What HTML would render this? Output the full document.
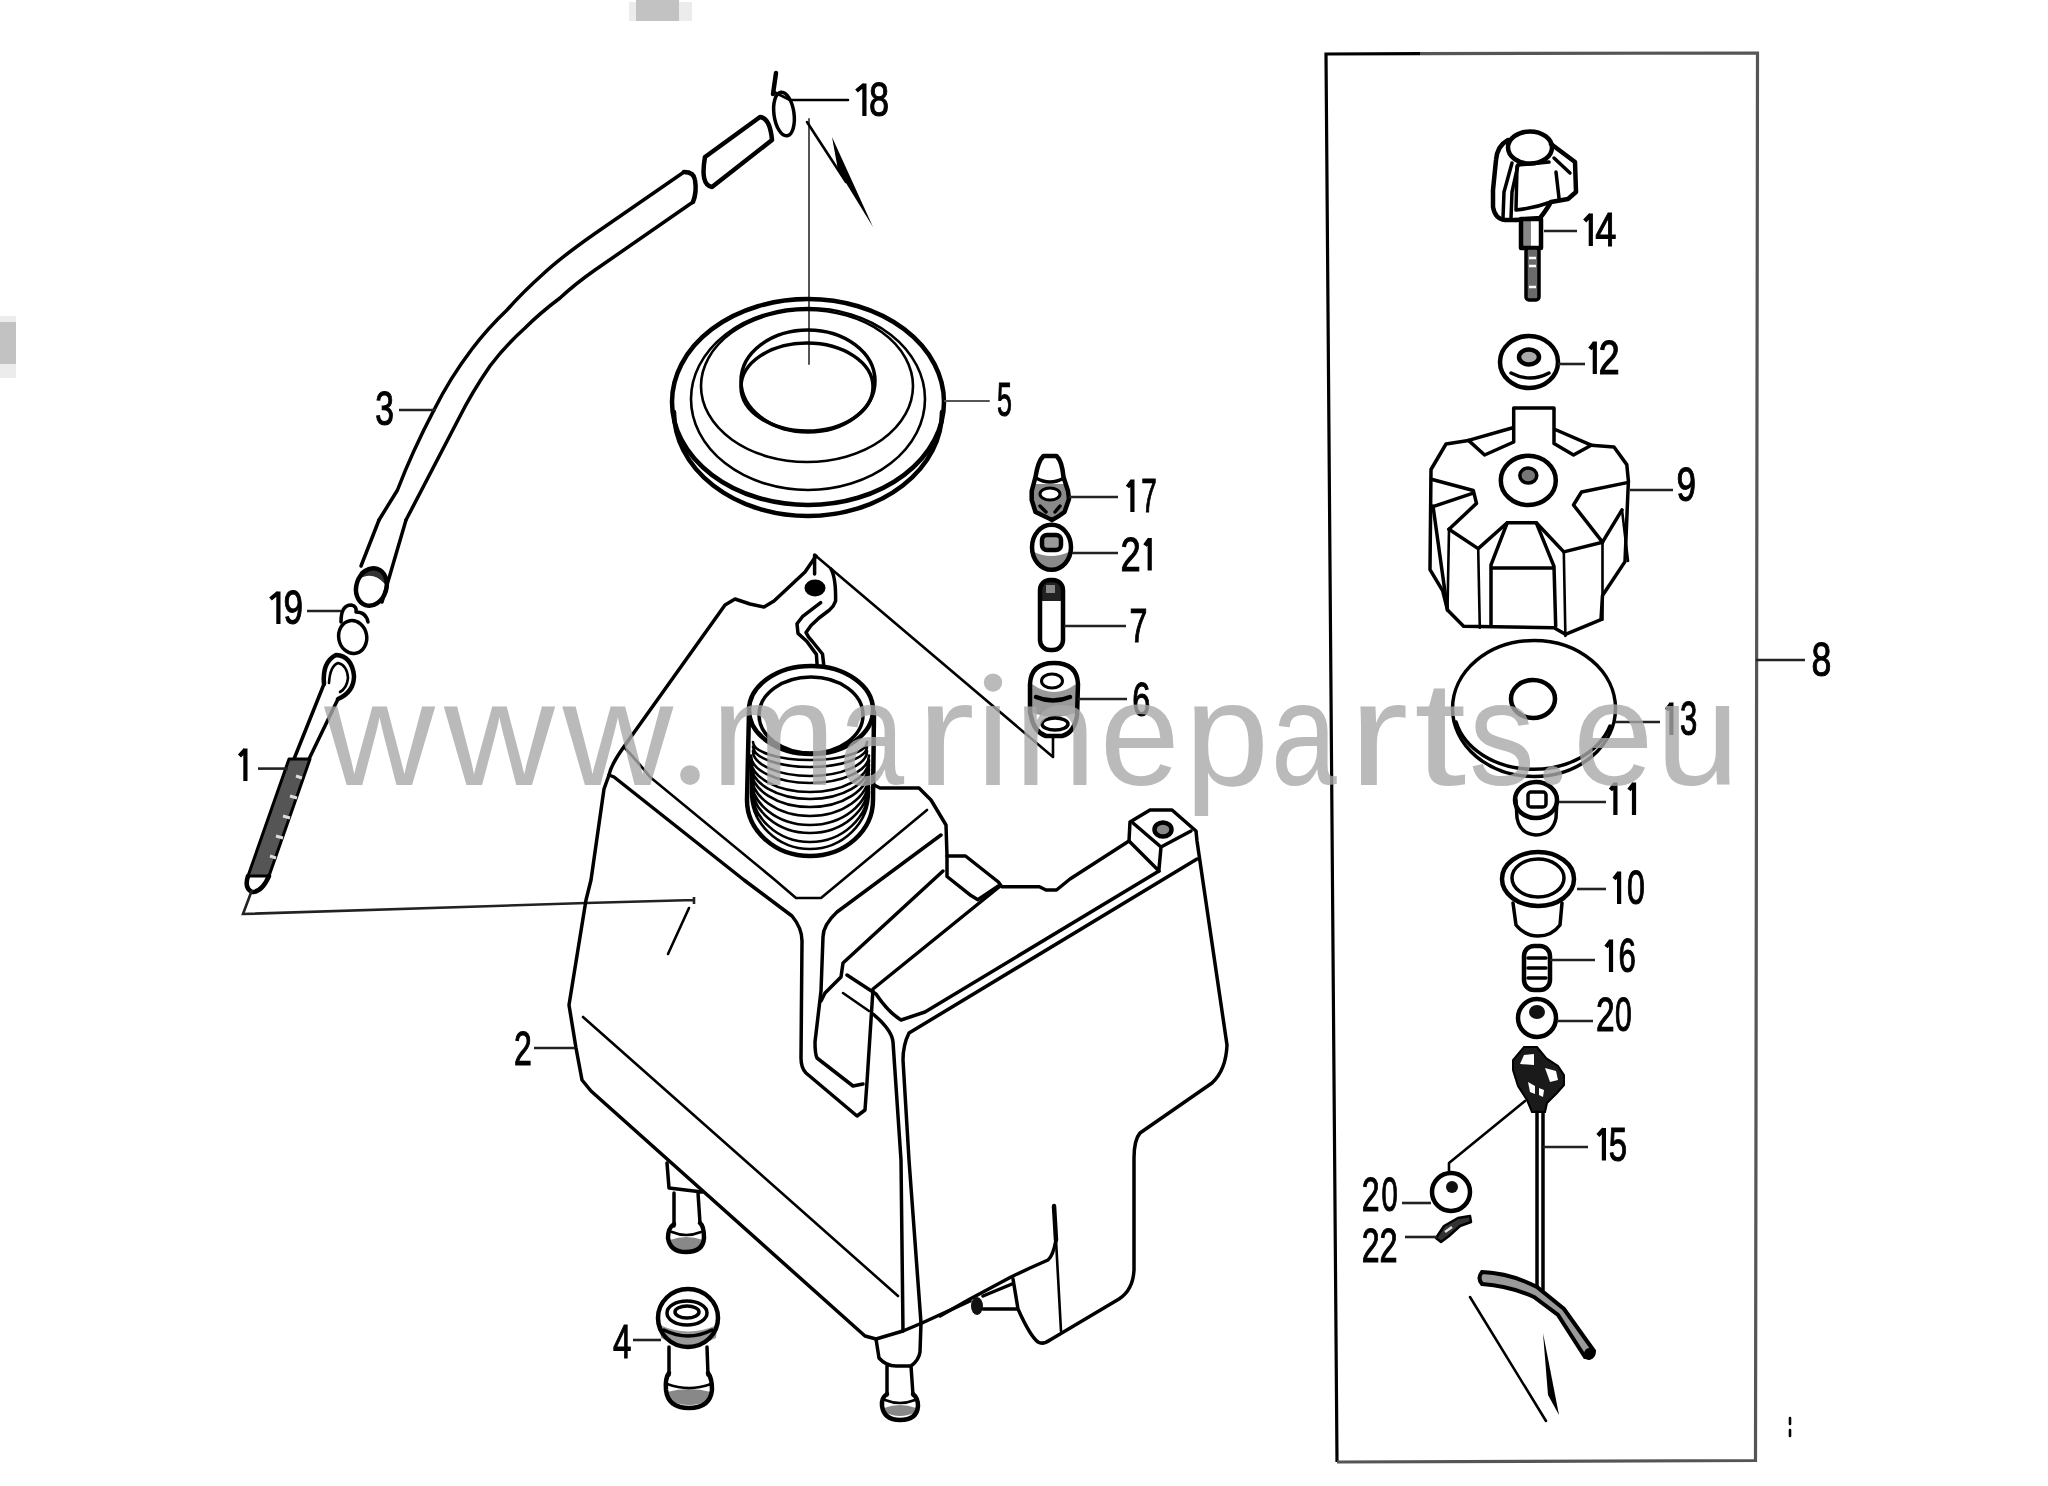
<!DOCTYPE html>
<html><head><meta charset="utf-8"><title>Parts diagram</title>
<style>
html,body{margin:0;padding:0;background:#fff;width:2048px;height:1486px;overflow:hidden}
svg{display:block;will-change:transform}
.k{fill:none;stroke:#000;stroke-width:3.5;stroke-linecap:round;stroke-linejoin:round}
.t{fill:none;stroke:#000;stroke-width:2.6;stroke-linecap:round;stroke-linejoin:round}
.h{fill:none;stroke:#000;stroke-width:4.5;stroke-linecap:round;stroke-linejoin:round}
.g{fill:none;stroke:#555;stroke-width:2;stroke-linecap:round}
.ld{fill:none;stroke:#222;stroke-width:2.6}
.n{font-family:"Liberation Sans",sans-serif;font-size:47.5px;fill:#000;stroke:#000;stroke-width:1.1}
.wm{font-family:"Liberation Sans",sans-serif;font-size:152px;fill:#b8b8b8;fill-opacity:0.97}
</style></head>
<body>
<svg width="2048" height="1486" viewBox="0 0 2048 1486">
<rect width="2048" height="1486" fill="#fff"/>
<!-- gray scan marks -->
<rect x="629" y="2" width="63" height="19" fill="#ececec"/>
<rect x="636" y="0" width="43" height="21" fill="#c2c2c2"/>
<rect x="0" y="316" width="16" height="62" fill="#ececec"/>
<rect x="0" y="322" width="16" height="42" fill="#c2c2c2"/>

<g id="drawing">
<!-- ===== part 18 + tube 3 ===== -->
<g id="p3">
<path class="k" d="M684,172 L595,233.5 Q560,258 542,275 Q522,293 507,310 Q488,328 472,349 Q450,378 434,410 Q412,452 397.5,490 L379,520"/>
<path class="k" d="M693,202 L595,270 Q575,284 560,298 Q540,313 525,328 Q505,346 490,366 Q472,392 458,420 Q432,470 406,520"/>
<path class="h" d="M684,172 Q694,172 695,180 Q697,192 693,202"/>
<path class="ld" d="M399,410 L436,410"/>
<path class="k" d="M379,520 L361,566 M406,520 L382,602"/>
<path d="M360,572 Q372,560 386,578 L385,584 Q372,570 358,580 Z" fill="#333"/>
<ellipse class="h" cx="371.4" cy="587" rx="15" ry="19" transform="rotate(18 371.4 587)"/>
</g>
<path class="h" d="M705,157 L760,117 Q770,118 772,140 L712,187 Q700,185 705,157 Z"/>
<path class="h" d="M776,73 L773,94"/>
<ellipse class="k" cx="784" cy="114" rx="10" ry="22" transform="rotate(-8 784 114)"/>
<path class="t" d="M774,92 L790,100 L848,100"/>
<path class="g" d="M809,119 L809,364"/>
<path class="t" d="M807,122 L846,182"/>
<path d="M832,137 L873,227 L838,170 Z" fill="#000"/>

<!-- ===== part 5 grommet ===== -->
<g id="p5">
<ellipse class="h" cx="808" cy="402" rx="136" ry="103"/>
<path class="h" d="M674,412 A134,104 0 0 0 942,412"/>
<ellipse class="t" cx="808" cy="399" rx="117" ry="91"/>
<ellipse class="t" cx="807" cy="386" rx="106" ry="76"/>
<ellipse class="k" cx="808" cy="381" rx="67" ry="51"/>
<ellipse class="k" cx="807" cy="387" rx="66" ry="44"/>
<path class="g" d="M945,401 L989,401"/>
</g>

<!-- ===== part 19 ===== -->
<ellipse class="k" cx="352.7" cy="637" rx="14" ry="16.5" transform="rotate(-10 352.7 637)"/>
<path class="k" d="M341,622 Q341,605 351,605 Q357,606 356,612 Q366,612 368,622"/>
<path class="ld" d="M307,611 L341,611"/>

<!-- ===== part 1 bolt ===== -->
<path class="h" d="M324,684 Q322,662 336,655 Q352,656 354,676 Q354,692 338,699"/>
<path class="t" d="M329,683 Q330,666 338,663 Q347,665 348,678 Q347,688 340,692"/>
<path class="k" d="M324,684 L294,759 M338,699 L309,759"/>
<path d="M289,759 L310,759 L269,876 L248,876 Z" fill="#555" stroke="#000" stroke-width="3" stroke-linejoin="round"/>
<path d="M296,776 L302,778 M290,796 L297,798 M283,816 L290,818 M276,836 L283,838 M270,856 L276,858" stroke="#ddd" stroke-width="3"/>
<path class="h" d="M248,876 Q244,888 252,892 Q262,892 269,876"/>
<path class="ld" d="M258,768.6 L288,768.6"/>
<path class="ld" d="M252,890 L243,914 L586,903 L694,900 M694,897 L694,904"/>
<path class="t" d="M689,908 L668,954"/>

<!-- ===== tank ===== -->
<g id="tank">
<!-- outer silhouette -->
<path class="k" d="M816,556 L805,572 L774,601 L764,607 L750,604 L735,599 L725,605 L623,748 Q611,765 609,775 L604,789 L591,880 L586,900 L569,1005 L576,1048 L582,1080 L591,1091 L865,1336 L876,1339 L903,1331 L922,1323 L970,1301"/>
<path class="k" d="M1013,1279 L1018,1309 Q1030,1336 1038,1342 Q1043,1345 1050,1340 L1119,1299 Q1133,1290 1134,1270 L1134,1158 Q1134,1140 1140,1133 L1212,1083 Q1226,1070 1227,1045 L1197,841 L1196,831 L1172,810 L1150,810 L1130,822 L1129,841 L1070,879 L1056.5,890 L1046,890 L1039.4,886.7 L1001.8,886.7 L998.4,882 L965.5,856 L947,856 L946,825 L931,800 L919,788 L880,788 L874,785"/>
<!-- bottom inner curve -->
<path class="h" d="M1054,1206 L1056,1240"/><path class="k" d="M1056,1240 Q1053,1256 1048,1260 L1030,1268 L1011,1277 L970,1299 L940,1316"/>
<path class="t" d="M1056,1240 L1061,1331"/>
<!-- nub -->
<ellipse cx="977" cy="1306" rx="6" ry="9" fill="#111"/>
<path class="k" d="M983,1309 L1017,1309 M983,1296 L1012,1284"/>
<!-- hook -->
<ellipse cx="815" cy="588" rx="10.5" ry="8.5" fill="#000"/>
<path class="k" d="M814.6,555 L814.6,574"/>
<path class="k" d="M831,569 Q836,578 835.6,601 Q834,606 829.5,610 L819,618 L811,625.5 L806,632.5 Q808,637 812,641 L822.5,654 L824,667"/>
<path class="k" d="M820.7,602.7 L802.4,616.7 L797,623.7 L798,633.4 L806.7,641.2 L816.4,654.4 L817.2,666.6"/>
<path class="t" d="M816,556 L1053,757 M1053,737 L1053,757"/>
<!-- neck -->
<ellipse class="h" cx="811" cy="710" rx="62" ry="44"/>
<ellipse class="k" cx="811" cy="715" rx="52" ry="38"/>
<path class="h" d="M749,712 L747,800 A63,56 0 0 0 873,800 L874,712"/>
<path class="t" d="M753,742.0 A57.0,18.0 0 0 0 867,742.0 M753,746.5 A57.0,20.5 0 0 0 867,746.5 M753,751.0 A57.0,25.0 0 0 0 867,751.0 M751,755.5 A59.0,27.5 0 0 0 869,755.5 M751,760.0 A59.0,32.0 0 0 0 869,760.0 M751,764.5 A59.0,34.5 0 0 0 869,764.5 M751,769.0 A59.0,38.0 0 0 0 869,769.0 M751,773.5 A59.0,42.5 0 0 0 869,773.5 M751,778.0 A59.0,47.0 0 0 0 869,778.0 M751,782.5 A59.0,50.5 0 0 0 869,782.5 M751,787.0 A59.0,55.0 0 0 0 869,787.0 M751,791.5 A59.0,57.5 0 0 0 869,791.5"/>
<!-- top face lines -->
<path class="k" d="M609,775 L614,777 L744,880 L792,916 Q802,928 802,941 L801,1058 Q801,1068 806,1073 L857,1116 L865,1110 L867,1082 L873,989 L999,887"/>
<path class="t" d="M624,747 Q638,762 650,777 L775,880 L796,898 L821,898 L927,810"/>
<path class="k" d="M941,835 L837,912 Q823,925 823,937 L821,991 L815,1042 Q815,1054 817,1058 L853,1086 L863,1084"/>
<path class="k" d="M943,871 L843,963 L841,977 L825,993 L821,1001"/>
<path class="t" d="M843,993 L869,1011"/>
<!-- small block -->
<path class="k" d="M947,856 L947,876.5 L971,895.6 L977.8,899.7 L998.4,886"/>
<!-- boss -->
<path class="k" d="M1133,823 L1161,847 L1191,831 M1161,847 L1159,869 M1129,841 L1159,871"/>
<ellipse cx="1163" cy="829.5" rx="8.5" ry="7" fill="#888" stroke="#000" stroke-width="4.5"/>
<!-- right block lines -->
<path class="k" d="M1159,871 L925,1012 L901,1020 Q888,1012 876,994 L847,975"/>
<path class="k" d="M1197,859 L909,1033 Q903,1045 903,1060 L909,1160 L921,1323"/>
<path class="k" d="M873,1014 Q892,1030 893,1042 L901,1160 L903,1331"/>
<path class="k" d="M865,1116"/>
<!-- left face diagonal -->
<path class="t" d="M583,1017 L898,1296"/>
<!-- leader 2 -->
<path class="ld" d="M534,1048 L575,1048"/>
<!-- legs -->
<path class="k" d="M667,1163 L669,1188 L702,1192 M674,1193 L674,1226 M698,1193 L700,1223"/>
<path d="M670,1240 Q686,1234 703,1240 L703,1246 Q686,1256 670,1246 Z" fill="#888"/>
<path class="h" d="M674,1224 Q668,1228 668,1238 Q670,1252 686,1252 Q703,1252 704,1238 Q704,1226 700,1223"/>
<path class="t" d="M672,1232 Q686,1238 701,1232"/>
<path class="k" d="M876,1339 L879,1358 Q886,1366 896,1366 L911,1366 Q919,1360 920,1352 L921,1323 M887,1366 L887,1395 M911,1366 L913,1395"/>
<path d="M884,1408 Q900,1402 916,1408 L916,1412 Q900,1420 884,1412 Z" fill="#888"/>
<path class="h" d="M887,1394 Q881,1398 882,1406 Q884,1420 900,1420 Q917,1420 918,1406 Q918,1398 913,1394"/>
<path class="t" d="M885,1400 Q900,1406 915,1400"/>
</g>
<!-- ===== part 4 ===== -->
<path d="M660,1325 Q688,1338 717,1325 L716,1338 Q688,1352 661,1338 Z" fill="#999"/>
<ellipse class="h" cx="688" cy="1318" rx="30" ry="29"/>
<ellipse class="k" cx="687" cy="1313" rx="20" ry="12"/>
<ellipse class="k" cx="687" cy="1312" rx="12" ry="6"/>
<path class="k" d="M664,1330 Q688,1342 712,1330"/>
<path class="k" d="M669,1347 L669,1375 M707,1347 L708,1375"/>
<path d="M667,1392 Q689,1386 711,1392 L710,1400 Q689,1410 668,1400 Z" fill="#888"/>
<path class="h" d="M669,1373 Q665,1378 666,1390 Q668,1408 689,1408 Q710,1408 712,1390 Q712,1378 708,1373"/>
<path class="t" d="M667,1384 Q689,1392 711,1384"/>
<path class="ld" d="M633,1340 L661,1340"/>

<!-- ===== parts 17 21 7 6 ===== -->
<path d="M1033,484 L1067,484 L1069,499 L1064.5,512 Q1058,517 1052,520 Q1046,517 1035.5,512 L1031.7,500 Z" fill="#8a8a8a"/>
<path class="h" d="M1043.5,456 L1056.5,456 Q1062,461 1063.5,477 L1068,491 L1069,499 L1064.5,512 Q1058,517 1052,520 Q1046,517 1035.5,512 L1031.7,500 L1031.7,491 L1035.5,477 Q1038,461 1043.5,456 Z"/>
<path class="k" d="M1036,478 Q1050,486 1064,478"/>
<ellipse cx="1050" cy="494" rx="10" ry="6" fill="#fff" stroke="#000" stroke-width="3"/>
<path class="k" d="M1040,506 L1046,512 M1060,506 L1055,512"/>
<path class="ld" d="M1069,497 L1118,497"/>
<path d="M1034,552 Q1051,560 1069,552 Q1066,568 1051,570 Q1037,568 1034,552 Z" fill="#8a8a8a"/>
<ellipse class="h" cx="1051.5" cy="547.3" rx="19.5" ry="22.5"/>
<rect x="1042" y="535" width="19" height="15" rx="5" fill="#999" stroke="#000" stroke-width="4.5"/>
<path class="ld" d="M1072,553 L1118,553"/>
<path d="M1040,596 Q1040,579 1051.5,579 Q1063,579 1063,596 L1063,601 L1040,601 Z" fill="#222"/>
<rect class="h" x="1040" y="580" width="23" height="70" rx="10"/>
<rect x="1046" y="585" width="9" height="8" fill="#888"/>
<path class="ld" d="M1064,626 L1126,626"/>
<path d="M1032,684 Q1054,700 1076,684 L1077,712 Q1054,722 1031,712 Z" fill="#999"/>
<path class="h" d="M1030,712 L1030,684 Q1031,663 1054,663 Q1077,663 1078,684 L1077,716 Q1074,733 1062,736 L1046,736 Q1034,732 1031,716 Z"/>
<ellipse cx="1052" cy="681" rx="10.5" ry="7" fill="#fff" stroke="#000" stroke-width="3"/>
<path class="h" d="M1036,697 Q1053,704 1070,697"/>
<ellipse cx="1055" cy="724" rx="13" ry="6" fill="#fff" stroke="#000" stroke-width="3.5"/>
<path class="ld" d="M1078,699 L1127,699"/>

<!-- ===== right box ===== -->
<path d="M1337,1462 L1326,54 L1420,53.6" fill="none" stroke="#000" stroke-width="3.2"/>
<path d="M1420,53.6 L1757.5,53 L1755.5,1460.5 L1337,1462" fill="none" stroke="#555" stroke-width="3.2"/>
<path class="ld" d="M1756,660 L1805,660"/>

<!-- part 14 -->
<ellipse class="h" cx="1530" cy="147.5" rx="22" ry="16"/>
<path class="h" d="M1508,140 Q1497,146 1496,160 L1493,190 L1493,207 Q1495,219 1505,220 L1516,220"/>
<path class="k" d="M1512,163 L1504,192 L1503,218 M1518,165 L1512,192 L1511,218"/>
<path class="k" d="M1518,165 L1549,162 M1517,166 L1516,210 M1516,210 Q1535,208 1551,202"/>
<path class="h" d="M1551,144 L1575,162 L1576,192 L1568,199 L1551,202 Q1545,212 1540,218 L1516,220"/>
<path class="k" d="M1554,158 L1570,173 M1556,172 L1559,198"/>
<path d="M1522,220 L1531,220 L1531,248 L1522,248 Z" fill="#888"/>
<rect class="h" x="1521" y="219" width="20" height="29"/>
<rect x="1526" y="248" width="13" height="52" rx="3" fill="#6a6a6a" stroke="#000" stroke-width="3.5"/>
<path d="M1529,258 L1536,258 M1529,266 L1536,266 M1529,287 L1536,287" stroke="#fff" stroke-width="2.5"/>
<path class="ld" d="M1544,231 L1577,231"/>
<!-- part 12 -->
<ellipse class="h" cx="1529" cy="362" rx="29" ry="26"/>
<ellipse cx="1529" cy="357" rx="10" ry="7.5" fill="#aaa" stroke="#000" stroke-width="4.5"/>
<path class="k" d="M1511,373 Q1530,383 1549,373"/>
<path class="ld" d="M1558,364 L1585,364"/>
<!-- part 9 -->
<g id="p9">
<path class="k" d="M1468.5,440.4 L1446,444 L1431,469.5 L1430,569.6 L1442.6,590.6 L1447.5,610 L1463.6,626.2 L1554,627.8 L1565.4,634.3 L1601,619.7 L1602.5,595.5 L1625,561.6 L1628.4,481 L1626.8,464.6 L1614,447 L1591.2,445.2"/>
<path class="k" d="M1468.5,440.4 L1513.7,427.5 L1513.7,408 L1554,408 L1554,429 L1591.2,445.2 L1573.5,455 L1554,443.6 L1554,408 M1513.7,408 L1513.7,442 L1484.6,455 L1468.5,440.4"/>
<ellipse class="h" cx="1528.3" cy="480.4" rx="27.5" ry="24.6"/>
<ellipse cx="1528.3" cy="475.6" rx="8.5" ry="7.5" fill="#777" stroke="#000" stroke-width="3.5"/>
<path class="k" d="M1431.3,479.2 L1473.3,490.5 L1476.5,503.4 L1449,529.2 M1433,506.6 L1471.7,493.7 M1433,506 L1447.5,610"/>
<path class="k" d="M1628.4,482.4 L1581.5,492 L1573.5,505 L1602.5,542.2 L1622,509.9"/>
<path class="t" d="M1622,509.9 L1628,561"/>
<path class="k" d="M1449,529.2 L1478.2,548.6 L1507.2,522.8 L1536.3,522.8 L1563.8,551.9 L1602.5,542.2"/>
<path class="k" d="M1507.2,522.8 L1491,564.8 L1491,626.2 M1536.3,522.8 L1554,566.4 L1555.7,626.2 M1491,568 L1554,568"/>
<path class="t" d="M1478.2,548.6 L1479.8,627.8 M1563.8,551.9 L1565.4,635.9 M1602.5,542.2 L1602.5,619.7 M1449,529.2 L1447.5,610"/>
<path class="ld" d="M1630,490 L1673,490"/>
</g>
<!-- part 13 -->
<ellipse class="k" cx="1534" cy="708.5" rx="81.5" ry="68"/>
<path class="k" d="M1456,722 A80,62 0 0 0 1610,726"/>
<ellipse class="h" cx="1533" cy="699" rx="22" ry="19"/>
<path class="ld" d="M1615,722 L1660,722"/>
<!-- part 11 -->
<ellipse class="h" cx="1536" cy="800" rx="21" ry="18"/>
<path class="k" d="M1516,800 L1517,818 Q1520,834 1536,835 Q1553,834 1556,818 L1557,800"/>
<rect class="k" x="1528" y="792" width="18" height="15" rx="3"/>
<path class="ld" d="M1559,802 L1606,802"/>
<!-- part 10 -->
<ellipse class="h" cx="1538" cy="879" rx="36" ry="27"/>
<ellipse class="k" cx="1538" cy="878" rx="26" ry="19"/>
<path class="k" d="M1513,903 L1516,925 Q1525,936 1538,936 Q1552,936 1560,925 L1562,903"/>
<path class="ld" d="M1577,889 L1606,889"/>
<!-- part 16 -->
<rect class="h" x="1524" y="946" width="26" height="44" rx="10"/>
<path class="k" d="M1528,958 L1546,958 M1528,968 L1546,968 M1528,978 L1546,978"/>
<path class="ld" d="M1550,960 L1595,960"/>
<!-- part 20 -->
<ellipse class="h" cx="1537" cy="1018" rx="19" ry="19"/>
<ellipse cx="1537" cy="1012" rx="8" ry="7" fill="#111"/>
<path class="ld" d="M1557,1021 L1593,1021"/>
<!-- part 15 -->
<path d="M1524,1047 L1537,1047 L1546,1058 L1558,1066 L1564,1075 L1564,1085 L1557,1093 L1547,1103 L1545,1112 L1532,1112 L1527,1100 L1518,1086 L1513,1070 L1513,1060 Z" fill="#1a1a1a" stroke="#000" stroke-width="2"/>
<path d="M1524,1055 L1534,1054 L1534,1065 L1520,1064 Z M1545,1068 L1556,1071 L1558,1080 L1550,1082 Z M1528,1082 L1535,1086 L1535,1094 L1530,1092 Z M1539,1088 L1544,1090 L1543,1097 L1539,1095 Z" fill="#fff"/>
<path class="k" d="M1537,1112 L1537,1290 M1543,1112 L1543,1290"/>
<path class="t" d="M1525,1101 L1449,1163 L1449,1172"/>
<path class="ld" d="M1543,1147 L1588,1147"/>
<path d="M1482,1272 Q1510,1273 1537,1287 L1564,1309 L1594,1351 Q1594,1359 1585,1357 L1558,1315 L1534,1297 Q1510,1286 1482,1284 Q1477,1278 1482,1272 Z" fill="#9a9a9a" stroke="#000" stroke-width="4"/>
<ellipse cx="1589" cy="1354" rx="5" ry="6" fill="#000"/>
<path class="t" d="M1470,1297 L1546,1421"/>
<path d="M1543,1333 L1559,1415 L1548,1395 Z" fill="#000"/>
<!-- part 20 left, 22 -->
<ellipse class="h" cx="1451" cy="1192" rx="19" ry="19"/>
<circle cx="1452" cy="1187" r="6" fill="#111"/>
<path class="ld" d="M1402,1203 L1431,1203"/>
<path d="M1436,1238 L1444,1226 L1458,1218 L1470,1216 L1471,1222 L1460,1226 L1449,1236 L1441,1242 Z" fill="#333" stroke="#000" stroke-width="2.5" stroke-linejoin="round"/>
<path d="M1445,1232 L1452,1227" stroke="#ddd" stroke-width="2.5"/>
<path class="ld" d="M1405,1237 L1437,1237"/>
<path class="t" d="M1790,1418 L1790,1424 M1790,1430 L1790,1436"/>
</g>

<!-- labels -->
<g class="n">
<text transform="translate(869.0,116) scale(0.761,1)">8</text>
<text transform="translate(375.3,425) scale(0.708,1)">3</text>
<text transform="translate(997.1,416) scale(0.567,1)">5</text>
<text transform="translate(283.5,624) scale(0.739,1)">9</text>
<text transform="translate(1141.3,512) scale(0.587,1)">7</text>
<text transform="translate(1120.5,570.5) scale(0.765,1)">2</text>
<text transform="translate(1129.4,642) scale(0.678,1)">7</text>
<text transform="translate(1132.3,716) scale(0.683,1)">6</text>
<text transform="translate(513.9,1065) scale(0.674,1)">2</text>
<text transform="translate(612.9,1358) scale(0.696,1)">4</text>
<text transform="translate(1595.2,246) scale(0.800,1)">4</text>
<text transform="translate(1598.4,374) scale(0.804,1)">2</text>
<text transform="translate(1676.5,500.5) scale(0.739,1)">9</text>
<text transform="translate(1811.5,676) scale(0.752,1)">8</text>
<text transform="translate(1680.1,735) scale(0.654,1)">3</text>
<text transform="translate(1627.0,904) scale(0.675,1)">0</text>
<text transform="translate(1618.4,972) scale(0.657,1)">6</text>
<text transform="translate(1596.0,1030.5) scale(0.704,1)">2</text>
<text transform="translate(1615.0,1030.5) scale(0.633,1)">0</text>
<text transform="translate(1608.8,1160.5) scale(0.696,1)">5</text>
<text transform="translate(1361.8,1211) scale(0.674,1)">2</text>
<text transform="translate(1381.4,1211) scale(0.613,1)">0</text>
<text transform="translate(1361.8,1262) scale(0.674,1)">2</text>
<text transform="translate(1379.6,1262) scale(0.683,1)">2</text>
</g>
<path d="M864.4,83.5 L864.4,116 M856.5,91.0 L864.4,84.5 M278.4,591.5 L278.4,624 M270.5,599.0 L278.4,592.5 M245.4,748.5 L245.4,781 M239.5,756.0 L245.4,749.5 M1132.4,479.5 L1132.4,512 M1127.5,487.0 L1132.4,480.5 M1149.7,538.0 L1149.7,570.5 M1145.0,545.5 L1149.7,539.0 M1590.8,213.5 L1590.8,246 M1584.7,221.0 L1590.8,214.5 M1594.8,341.5 L1594.8,374 M1590.0,349.0 L1594.8,342.5 M1671.4,702.5 L1671.4,735 M1666.5,710.0 L1671.4,703.5 M1615.4,782.5 L1615.4,815 M1610.5,790.0 L1615.4,783.5 M1634.0,782.5 L1634.0,815 M1629.0,790.0 L1634.0,783.5 M1619.1,871.5 L1619.1,904 M1614.1,879.0 L1619.1,872.5 M1611.0,939.5 L1611.0,972 M1606.0,947.0 L1611.0,940.5 M1603.9,1128.0 L1603.9,1160.5 M1597.9,1135.5 L1603.9,1129.0" stroke="#000" stroke-width="4.2" fill="none"/>

<!-- watermark -->
<g font-family="Liberation Sans" font-size="149" fill="#a9a9a9" fill-opacity="0.8">
<text transform="translate(324.2,785) scale(1.028,1)">w</text>
<text transform="translate(443.9,785) scale(1.029,1)">w</text>
<text transform="translate(562.6,785) scale(1.028,1)">w</text>
<circle cx="690.0" cy="775.1" r="9.9"/>
<text transform="translate(711.0,785) scale(1.007,1)">m</text>
<text transform="translate(839.3,785) scale(0.783,1)">a</text>
<text transform="translate(916.3,785) scale(1.179,1)">r</text>
<rect x="986.2" y="706" width="13.6" height="79"/><circle cx="993" cy="682.6" r="9.2"/>
<text transform="translate(1014.3,785) scale(0.987,1)">n</text>
<text transform="translate(1099.8,785) scale(0.965,1)">e</text>
<text transform="translate(1184.5,785) scale(1.022,1)">p</text>
<text transform="translate(1271.1,785) scale(0.794,1)">a</text>
<text transform="translate(1348.6,785) scale(1.208,1)">r</text>
<text transform="translate(1413.9,785) scale(1.266,1)">t</text>
<text transform="translate(1468.9,785) scale(0.884,1)">s</text>
<circle cx="1552.7" cy="775.5" r="9.5"/>
<text transform="translate(1573.0,785) scale(0.972,1)">e</text>
<text transform="translate(1655.8,785) scale(1.012,1)">u</text>
</g>
</svg>
</body></html>
